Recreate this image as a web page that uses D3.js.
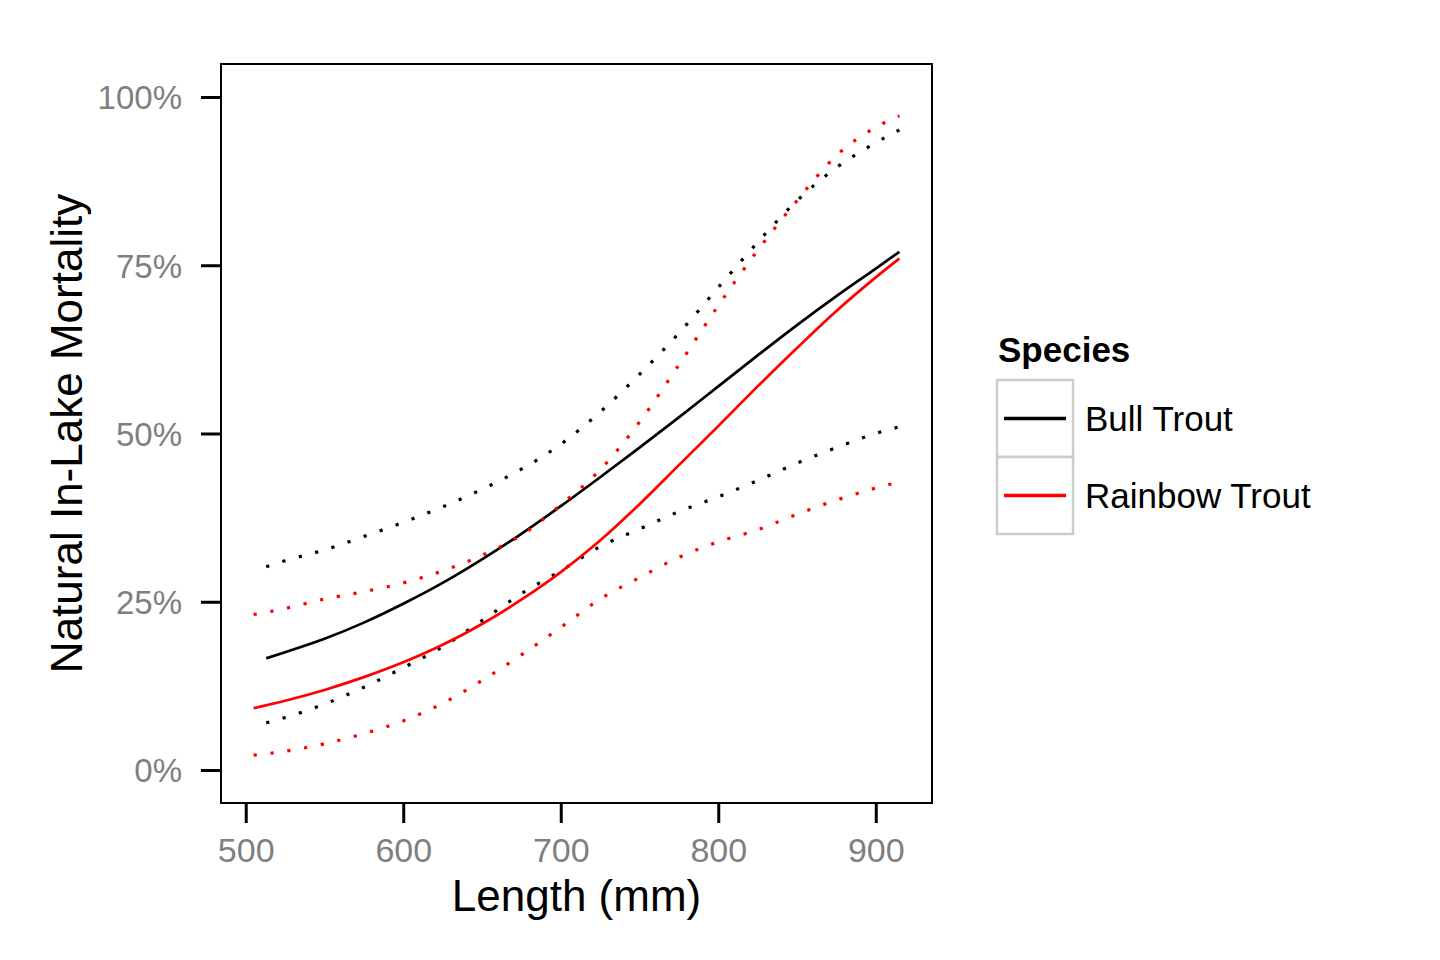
<!DOCTYPE html>
<html>
<head>
<meta charset="utf-8">
<script src="https://cdn.jsdelivr.net/npm/d3@7"></script>
<style>
  html, body { margin: 0; padding: 0; background: #fff; }
  svg { display: block; font-family: "Liberation Sans", Arial, sans-serif; }
</style>
</head>
<body>
<svg id="chart" width="1440" height="960"></svg>
<script>
// ---- Data ----
const species = ["Bull Trout", "Rainbow Trout"];
const speciesColors = ["#000000", "#FF0000"];

const bullLength = [513, 525, 550, 575, 600, 625, 650, 675, 700, 725, 750, 775, 800, 825, 850, 875, 900, 915];
const bullMean   = [0.166, 0.175, 0.195, 0.219, 0.247, 0.278, 0.313, 0.351, 0.392, 0.435, 0.479, 0.524, 0.570, 0.616, 0.661, 0.704, 0.745, 0.770];
const bullUpper  = [0.302, 0.311, 0.327, 0.347, 0.368, 0.391, 0.417, 0.447, 0.484, 0.532, 0.588, 0.649, 0.717, 0.784, 0.846, 0.895, 0.932, 0.951];
const bullLower  = [0.070, 0.078, 0.098, 0.123, 0.152, 0.183, 0.222, 0.262, 0.296, 0.332, 0.358, 0.384, 0.406, 0.430, 0.456, 0.479, 0.500, 0.510];

const rainbowLength = [505, 525, 550, 575, 600, 625, 650, 675, 700, 725, 750, 775, 800, 825, 850, 875, 900, 915];
const rainbowMean   = [0.092, 0.103, 0.119, 0.138, 0.160, 0.186, 0.217, 0.253, 0.294, 0.341, 0.395, 0.453, 0.511, 0.570, 0.627, 0.682, 0.732, 0.760];
const rainbowUpper  = [0.231, 0.240, 0.254, 0.265, 0.278, 0.296, 0.319, 0.349, 0.394, 0.446, 0.517, 0.602, 0.690, 0.772, 0.846, 0.913, 0.955, 0.972];
const rainbowLower  = [0.022, 0.028, 0.039, 0.054, 0.073, 0.099, 0.133, 0.171, 0.212, 0.254, 0.286, 0.316, 0.339, 0.357, 0.380, 0.401, 0.419, 0.428];

const xTicks = [500, 600, 700, 800, 900];
const yTicks = [0, 0.25, 0.5, 0.75, 1.0];
const xTitle = "Length (mm)";
const yTitle = "Natural In-Lake Mortality";
const legendTitle = "Species";

// ---- Layout ----
const panel = { left: 221, top: 64, right: 932, bottom: 803 };
const svg = d3.select("#chart");

const x = d3.scaleLinear().domain([484.3, 935.7]).range([panel.left, panel.right]);
const y = d3.scaleLinear().domain([-0.0490, 1.0490]).range([panel.bottom, panel.top]);

const seriesDefs = [
  { len: bullLength, vals: bullMean, color: speciesColors[0], dotted: false },
  { len: bullLength, vals: bullUpper, color: speciesColors[0], dotted: true },
  { len: bullLength, vals: bullLower, color: speciesColors[0], dotted: true },
  { len: rainbowLength, vals: rainbowMean, color: speciesColors[1], dotted: false },
  { len: rainbowLength, vals: rainbowUpper, color: speciesColors[1], dotted: true },
  { len: rainbowLength, vals: rainbowLower, color: speciesColors[1], dotted: true },
];

const line = d3.line()
  .x(d => x(d[0]))
  .y(d => y(d[1]))
  .curve(d3.curveMonotoneX);

const order = [1, 2, 0, 4, 5, 3];
order.forEach(i => {
  const s = seriesDefs[i];
  const pts = s.len.map((l, k) => [l, s.vals[k]]);
  svg.append("path")
    .attr("d", line(pts))
    .attr("fill", "none")
    .attr("stroke", s.color)
    .attr("stroke-width", s.dotted ? 3.2 : 2.7)
    .attr("stroke-dasharray", s.dotted ? "3.2,13.8" : null)
    .attr("stroke-linecap", "butt");
});

// Panel border
svg.append("rect")
  .attr("x", panel.left).attr("y", panel.top)
  .attr("width", panel.right - panel.left)
  .attr("height", panel.bottom - panel.top)
  .attr("fill", "none")
  .attr("stroke", "#000")
  .attr("stroke-width", 2);

// X axis
const xAxis = d3.axisBottom(x).tickValues(xTicks).tickSize(20).tickPadding(14).tickFormat(d3.format("d"));
const gx = svg.append("g").attr("transform", `translate(0,${panel.bottom})`).call(xAxis);
gx.select(".domain").remove();
gx.selectAll(".tick line").attr("stroke", "#000").attr("stroke-width", 3);
gx.selectAll(".tick text")
  .attr("fill", "#7F7F7F")
  .attr("font-size", 34)
  .attr("font-family", "Liberation Sans, Arial, sans-serif")
  .attr("dy", null)
  .attr("y", 59);

// Y axis
const yAxis = d3.axisLeft(y).tickValues(yTicks).tickSize(20).tickPadding(19).tickFormat(d3.format(".0%"));
const gy = svg.append("g").attr("transform", `translate(${panel.left},0)`).call(yAxis);
gy.select(".domain").remove();
gy.selectAll(".tick line").attr("stroke", "#000").attr("stroke-width", 3);
gy.selectAll(".tick text")
  .attr("fill", "#7F7F7F")
  .attr("font-size", 33)
  .attr("font-family", "Liberation Sans, Arial, sans-serif")
  .attr("dy", "0.36em");

// Axis titles
svg.append("text")
  .attr("x", (panel.left + panel.right) / 2)
  .attr("y", 911)
  .attr("text-anchor", "middle")
  .attr("font-size", 44)
  .attr("fill", "#000")
  .text(xTitle);

svg.append("text")
  .attr("transform", `translate(82,${(panel.top + panel.bottom) / 2}) rotate(-90)`)
  .attr("text-anchor", "middle")
  .attr("font-size", 44)
  .attr("fill", "#000")
  .text(yTitle);

// Legend
const lg = svg.append("g");
lg.append("text")
  .attr("x", 998).attr("y", 362)
  .attr("font-size", 35)
  .attr("font-weight", "bold")
  .attr("fill", "#000")
  .text(legendTitle);

const keyX = 997, keyY0 = 380, keyW = 76, keyH = 77;
species.forEach((name, i) => {
  const ky = keyY0 + i * keyH;
  lg.append("rect")
    .attr("x", keyX).attr("y", ky)
    .attr("width", keyW).attr("height", keyH)
    .attr("fill", "#fff")
    .attr("stroke", "#CCCCCC")
    .attr("stroke-width", 2.5);
});
species.forEach((name, i) => {
  const ky = keyY0 + i * keyH;
  lg.append("line")
    .attr("x1", keyX + 7).attr("x2", keyX + 69)
    .attr("y1", ky + keyH / 2).attr("y2", ky + keyH / 2)
    .attr("stroke", speciesColors[i])
    .attr("stroke-width", 3.6);
  lg.append("text")
    .attr("x", 1085).attr("y", ky + keyH / 2 + 12.5)
    .attr("font-size", 35)
    .attr("fill", "#000")
    .text(name);
});
</script>
</body>
</html>
